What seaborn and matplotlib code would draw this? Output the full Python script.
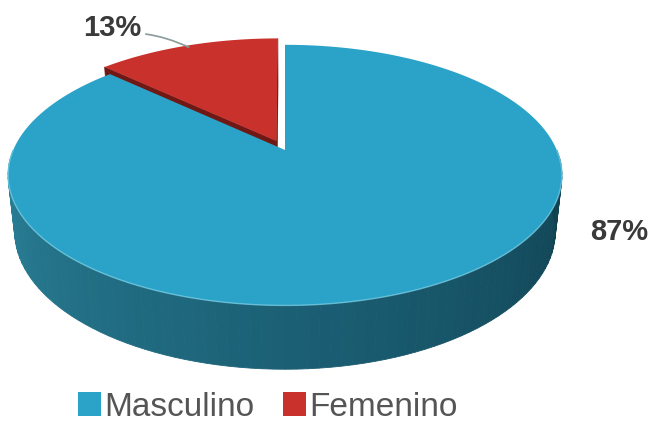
import numpy as np
import matplotlib
matplotlib.use("Agg")
import matplotlib.pyplot as plt
from matplotlib.patches import Patch
import seaborn as sns

# data
labels = ["Masculino", "Femenino"]
values = [87, 13]
explode = [0.0, 0.08]
top_colors = ["#2ba2c8", "#c9312c"]
wall_colors = ["#1f6f86", "#701814"]

sns.set_style("white")
plt.rcParams["font.family"] = ["Liberation Sans", "DejaVu Sans"]

# simple perspective camera for the 3d look
phi = np.radians(27.5)
c, s = np.cos(phi), np.sin(phi)
D = 4.6
F = 1250.0
h = 0.235


def project(X, Y, Z):
    dy = Y + D * c
    dz = Z - D * s
    depth = dy * c - dz * s
    return F * X / depth, F * (dy * s + dz * c) / depth


fig = plt.figure(figsize=(6.56, 4.22), dpi=100)
ax = fig.add_axes([0, 0, 1, 1])
ax.set_xlim(-285, 371)
ax.set_ylim(-272, 150)
ax.axis("off")

# slice angles, clockwise from 12 o'clock
total = sum(values)
bounds = 90 - 360 * np.concatenate([[0], np.cumsum(values)]) / total
slices = []
for i in range(len(values)):
    a0, a1 = bounds[i], bounds[i + 1]
    mid = np.radians((a0 + a1) / 2)
    ox, oy = explode[i] * np.cos(mid), explode[i] * np.sin(mid)
    slices.append((i, a0, a1, ox, oy))

# far slices first
slices.sort(key=lambda t: -np.sin(np.radians((t[1] + t[2]) / 2)))

side_pal = sns.blend_palette(["#2a8299", "#1b5f74", "#0f3f4e"], n_colors=90)

for i, a0, a1, ox, oy in slices:
    # radial walls
    for alpha, beta in [(a0, a0 + 90), (a1, a1 - 90)]:
        b = np.radians(beta)
        if -ox * np.cos(b) + (-D * c - oy) * np.sin(b) <= 0:
            continue
        t = np.radians(alpha)
        px = [ox, ox + np.cos(t), ox + np.cos(t), ox]
        py = [oy, oy + np.sin(t), oy + np.sin(t), oy]
        pz = [0, 0, -h, -h]
        sx, sy = project(np.array(px), np.array(py), np.array(pz))
        ax.fill(sx, sy, color=wall_colors[i], lw=0.5)

    # front curved wall, with gradient
    lo, hi = max(a1, -180), min(a0, 0)
    if hi > lo:
        edges = np.linspace(lo, hi, 91)
        for k in range(90):
            t = np.radians(np.linspace(edges[k], edges[k + 1], 4))
            X = ox + np.cos(t)
            Y = oy + np.sin(t)
            sx1, sy1 = project(X, Y, np.zeros_like(t))
            sx2, sy2 = project(X[::-1], Y[::-1], np.full_like(t, -h))
            col = side_pal[int((edges[k] + 180) / 180 * 89)]
            ax.fill(np.r_[sx1, sx2], np.r_[sy1, sy2], color=col, lw=0.6, ec=col)

    # top face
    t = np.radians(np.linspace(a0, a1, 200))
    X = np.r_[ox, ox + np.cos(t)]
    Y = np.r_[oy, oy + np.sin(t)]
    sx, sy = project(X, Y, np.zeros_like(X))
    ax.fill(sx, sy, color=top_colors[i], lw=0)

    # light rim on the front edge
    if hi > lo:
        t = np.radians(np.linspace(lo, hi, 200))
        sx, sy = project(ox + np.cos(t), oy + np.sin(t), np.zeros_like(t))
        ax.plot(sx, sy, color="#7fd3ea", lw=1.0, alpha=0.7)

# percentage labels
pct = [f"{v}%" for v in values]
ax.text(334, -82, pct[0], ha="center", va="center", fontsize=21,
        fontweight="bold", color="#3a3a3a")

i, a0, a1, ox, oy = [t for t in slices if t[0] == 1][0]
m = np.radians((a0 + a1) / 2)
axx, axy = project(ox + 0.98 * np.cos(m), oy + 0.98 * np.sin(m), 0.0)
ax.annotate(pct[1], xy=(axx, axy), xytext=(-173, 122), ha="center", va="center",
            fontsize=21, fontweight="bold", color="#3a3a3a",
            arrowprops=dict(arrowstyle="-", color="#8a9a9a", lw=1.2,
                            shrinkA=1, shrinkB=0, relpos=(1.0, 0.3),
                            connectionstyle="angle3,angleA=-5,angleB=-25"))

handles = [Patch(facecolor=top_colors[k], edgecolor="none") for k in range(len(labels))]
fig.legend(handles, labels, loc="center", bbox_to_anchor=(0.408, 0.035), ncol=2,
           frameon=False, fontsize=24, handlelength=0.7, handleheight=0.7,
           handletextpad=0.1, columnspacing=0.85, labelcolor="#555555")

fig.savefig("out.png", dpi=100)
